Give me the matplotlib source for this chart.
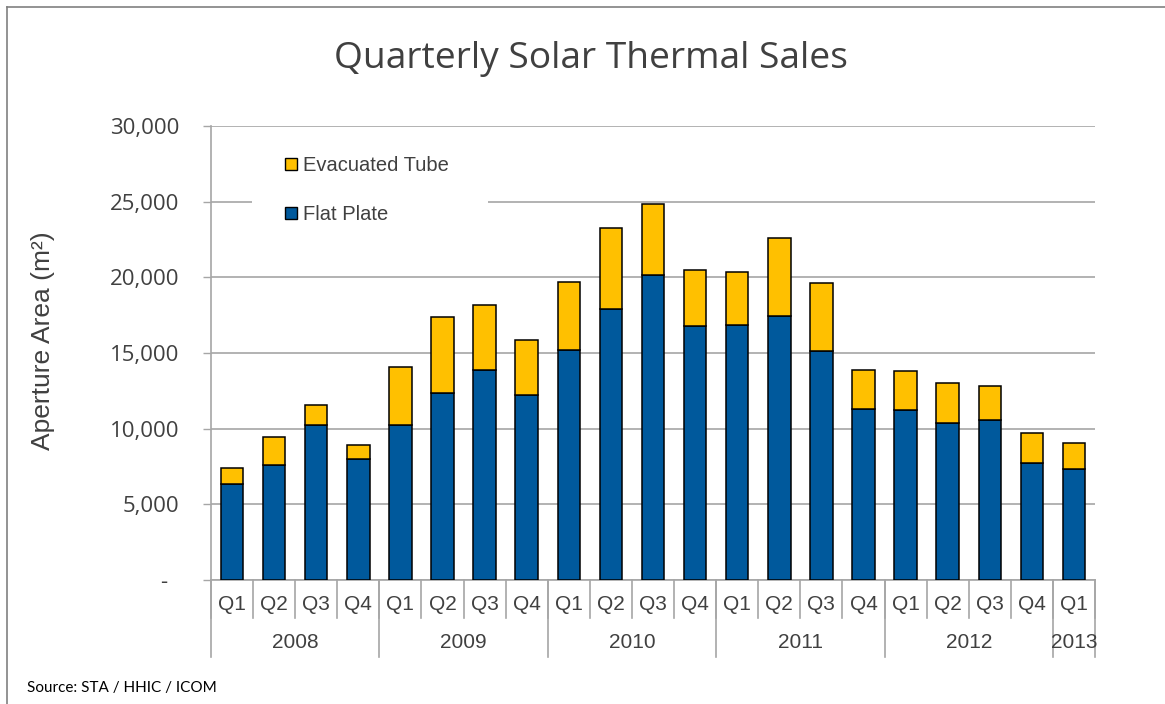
import matplotlib.pyplot as plt
from matplotlib.patches import Patch, Rectangle
import matplotlib.transforms as mtransforms
import numpy as np

# data
quarters = ['Q1', 'Q2', 'Q3', 'Q4'] * 5 + ['Q1']
years = ['2008', '2009', '2010', '2011', '2012', '2013']
quarters_per_year = [4, 4, 4, 4, 4, 1]
flat_plate = [6350, 7620, 10240, 7970, 10240, 12380, 13880, 12200, 15180, 17890, 20180,
              16760, 16850, 17420, 15130, 11300, 11230, 10400, 10570, 7710, 7340]
evacuated_tube = [1050, 1850, 1320, 930, 3840, 4980, 4270, 3660, 4540, 5390, 4640,
                  3700, 3520, 5160, 4470, 2580, 2580, 2640, 2230, 2000, 1690]
y_ticks = [0, 5000, 10000, 15000, 20000, 25000, 30000]

W, H = 1165, 704
blue = '#00599C'
gold = '#FFC000'
grey = '#A6A6A6'
txt = '#404040'

fig = plt.figure(figsize=(W / 100, H / 100), dpi=100)
ax = fig.add_axes([211 / W, 1 - 580 / H, 884 / W, 454 / H])

x = np.arange(len(flat_plate))
ax.bar(x, flat_plate, 0.535, color=blue, edgecolor='black', linewidth=1.1, zorder=3)
ax.bar(x, evacuated_tube, 0.535, bottom=flat_plate, color=gold, edgecolor='black',
       linewidth=1.1, zorder=3)

ax.set_xlim(-0.5, len(x) - 0.5)
ax.set_ylim(0, 30000)
ax.set_yticks(y_ticks)
ax.set_yticklabels(['-  '] + [f'{v:,}' for v in y_ticks[1:]], family='Open Sans')
ax.tick_params(axis='y', length=5.8, width=1.0, color=grey, pad=17, labelsize=16,
               labelcolor=txt)
ax.set_xticks([])
ax.yaxis.grid(True, color=grey, linewidth=1.2)
ax.set_axisbelow(True)
for s in ['top', 'right']:
    ax.spines[s].set_visible(False)
for s in ['left', 'bottom']:
    ax.spines[s].set_color(grey)
    ax.spines[s].set_linewidth(1.2)

# two level category axis
trans = mtransforms.blended_transform_factory(ax.transData, ax.transAxes)
for i, q in enumerate(quarters):
    ax.text(i, -0.053, q, transform=trans, ha='center', va='center', fontsize=15,
            color=txt, family='Liberation Sans')
for b in np.arange(-0.5, len(x)):
    ax.plot([b, b], [0, -0.084], transform=trans, clip_on=False, color=grey, lw=1.2)
edges = np.concatenate([[0], np.cumsum(quarters_per_year)]) - 0.5
for b in edges:
    ax.plot([b, b], [0, -0.17], transform=trans, clip_on=False, color=grey, lw=1.2)
for k, yr in enumerate(years):
    ax.text((edges[k] + edges[k + 1]) / 2, -0.137, yr, transform=trans, ha='center',
            va='center', fontsize=15, color=txt, family='Liberation Sans')

# legend, white box hides the gridline behind it
ax.add_patch(Rectangle((41 / 884, 0.72), 236 / 884, 0.22, transform=ax.transAxes,
                       facecolor='white', edgecolor='none', zorder=1))
handles = [Patch(facecolor=gold, edgecolor='black'), Patch(facecolor=blue, edgecolor='black')]
ax.legend(handles, ['Evacuated Tube', 'Flat Plate'], loc='upper left',
          bbox_to_anchor=(74 / 884, 0.934), frameon=False, borderpad=0, borderaxespad=0,
          prop={'family': 'Liberation Sans', 'size': 14.5}, labelcolor=txt,
          labelspacing=1.5, handlelength=0.58, handleheight=0.58, handletextpad=0.3)

fig.text(591 / W, 1 - 68 / H, 'Quarterly Solar Thermal Sales', ha='center', va='baseline',
         fontsize=26.7, family='Open Sans', color=txt)
fig.text(43 / W, 1 - 341 / H, 'Aperture Area (m²)', rotation=90, ha='center', va='center',
         fontsize=19, family='Liberation Sans', color=txt)
fig.text(27 / W, 1 - 688 / H, 'Source: STA / HHIC / ICOM', ha='left', va='center',
         fontsize=11, family='Lato', color='black')

# outer chart frame
fig.add_artist(plt.Line2D([7 / W, 7 / W], [0, 1 - 7 / H], color='#808080', lw=1.2))
fig.add_artist(plt.Line2D([7 / W, 1], [1 - 7 / H, 1 - 7 / H], color='#808080', lw=1.2))

fig.savefig('out.png', dpi=100)
